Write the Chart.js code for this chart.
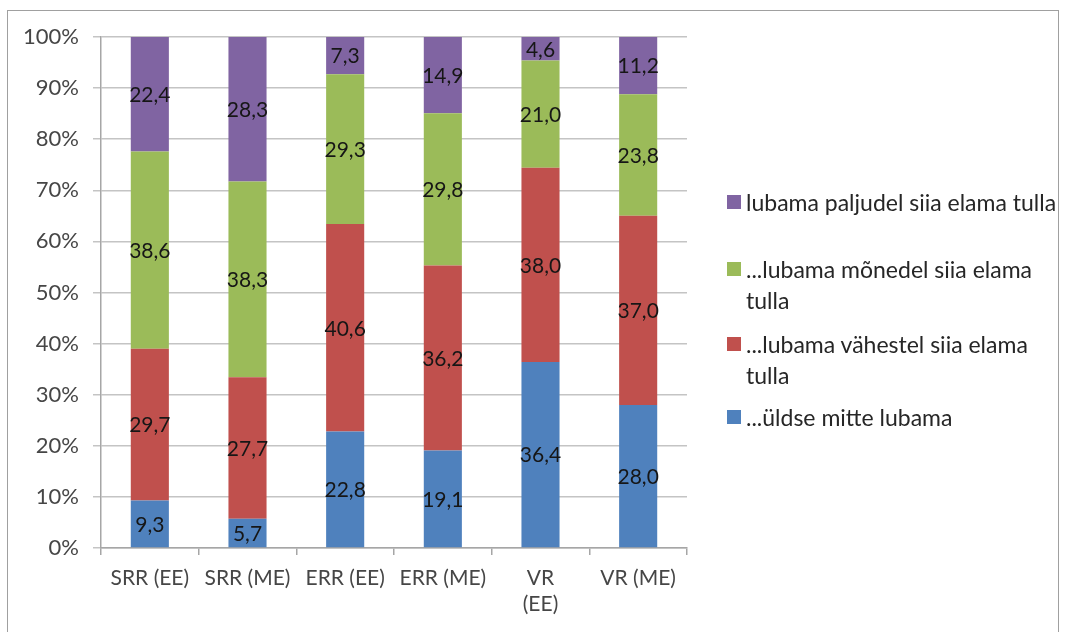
<!DOCTYPE html>
<html>
<head>
<meta charset="utf-8">
<script src="https://cdn.jsdelivr.net/npm/chart.js@4/dist/chart.umd.min.js"></script>
<style>
  body { margin: 0; background: #fff; }
  #wrap { position: relative; width: 1068px; height: 632px; overflow: hidden; }
  #frame { position: absolute; left: 7px; top: 10px; width: 1052px; height: 630px; border: 1px solid #a0a0a0; box-sizing: border-box; }
  #legend { position: absolute; left: 0; top: 0; font-family: Lato, sans-serif; font-size: 23px; color: #262626; }
  .item { position: absolute; left: 727px; width: 336px; line-height: 31px; }
  .box { position: absolute; left: 0; top: 8px; width: 14px; height: 14px; }
  .txt { margin-left: 19px; }
</style>
</head>
<body>
<div id="wrap">
  <canvas id="chart" width="1068" height="632"></canvas>
  <div id="frame"></div>
  <div id="legend"></div>
</div>
<script>
// Kategooriad ja seeriad
const kategooriad = ['SRR (EE)', 'SRR (ME)', 'ERR (EE)', 'ERR (ME)', ['VR', '(EE)'], 'VR (ME)'];
const yldseMitte = [9.3, 5.7, 22.8, 19.1, 36.4, 28.0];
const vahestel = [29.7, 27.7, 40.6, 36.2, 38.0, 37.0];
const monedel = [38.6, 38.3, 29.3, 29.8, 21.0, 23.8];
const paljudel = [22.4, 28.3, 7.3, 14.9, 4.6, 11.2];
const yTicks = [0, 10, 20, 30, 40, 50, 60, 70, 80, 90, 100];

const seeriad = [
    { label: '...üldse mitte lubama', data: yldseMitte, color: '#4F81BD' },
    { label: '...lubama vähestel siia elama tulla', data: vahestel, color: '#C0504D' },
    { label: '...lubama mõnedel siia elama tulla', data: monedel, color: '#9BBB59' },
    { label: 'lubama paljudel siia elama tulla', data: paljudel, color: '#8064A2' }
];

const FONT = 'Lato, sans-serif';

// väärtused ribade sisse
const labelPlugin = {
    id: 'barLabels',
    afterDatasetsDraw(chart) {
        const ctx = chart.ctx;
        ctx.save();
        ctx.font = '21px ' + FONT;
        ctx.fillStyle = '#161616';
        ctx.textAlign = 'center';
        ctx.textBaseline = 'middle';
        chart.data.datasets.forEach((ds, i) => {
            chart.getDatasetMeta(i).data.forEach((bar, j) => {
                const txt = ds.data[j].toFixed(1).replace('.', ',');
                ctx.fillText(txt, bar.x, (bar.y + bar.base) / 2 + 1);
            });
        });
        ctx.restore();
    }
};

const chart = new Chart(document.getElementById('chart'), {
    type: 'bar',
    data: {
        labels: kategooriad,
        datasets: seeriad.map(s => ({
            label: s.label,
            data: s.data,
            backgroundColor: s.color,
            borderWidth: 0,
            categoryPercentage: 1,
            barPercentage: 0.39
        }))
    },
    options: {
        responsive: false,
        animation: false,
        layout: { padding: { left: 0, top: 37, right: 381, bottom: 0 } },
        plugins: { legend: { display: false }, tooltip: { enabled: false } },
        scales: {
            x: {
                stacked: true,
                border: { color: '#a6a6a6', width: 1.5 },
                grid: { offset: true, drawOnChartArea: false, color: '#a6a6a6', lineWidth: 1.5, tickLength: 7 },
                ticks: { font: { family: FONT, size: 21 }, color: '#464646', padding: 11, maxRotation: 0, autoSkip: false },
                afterFit: s => { s.height = 84; }
            },
            y: {
                stacked: true,
                min: 0,
                max: 100,
                afterBuildTicks: s => { s.ticks = yTicks.map(v => ({ value: v })); },
                border: { color: '#a6a6a6', width: 1.5 },
                grid: { color: '#c4c4c4', lineWidth: 1.5, tickLength: 8 },
                ticks: { font: { family: FONT, size: 22 }, color: '#464646', padding: 14, callback: v => v + '%' },
                afterFit: s => { s.width = 101; }
            }
        }
    },
    plugins: [labelPlugin]
});

// legend paremal, vastupidises järjekorras
const legendTops = [187, 254, 329, 402];
const legend = document.getElementById('legend');
seeriad.slice().reverse().forEach((s, i) => {
    const item = document.createElement('div');
    item.className = 'item';
    item.style.top = legendTops[i] + 'px';
    item.innerHTML = '<span class="box" style="background:' + s.color + '"></span><div class="txt">' + s.label + '</div>';
    legend.appendChild(item);
});
</script>
</body>
</html>
